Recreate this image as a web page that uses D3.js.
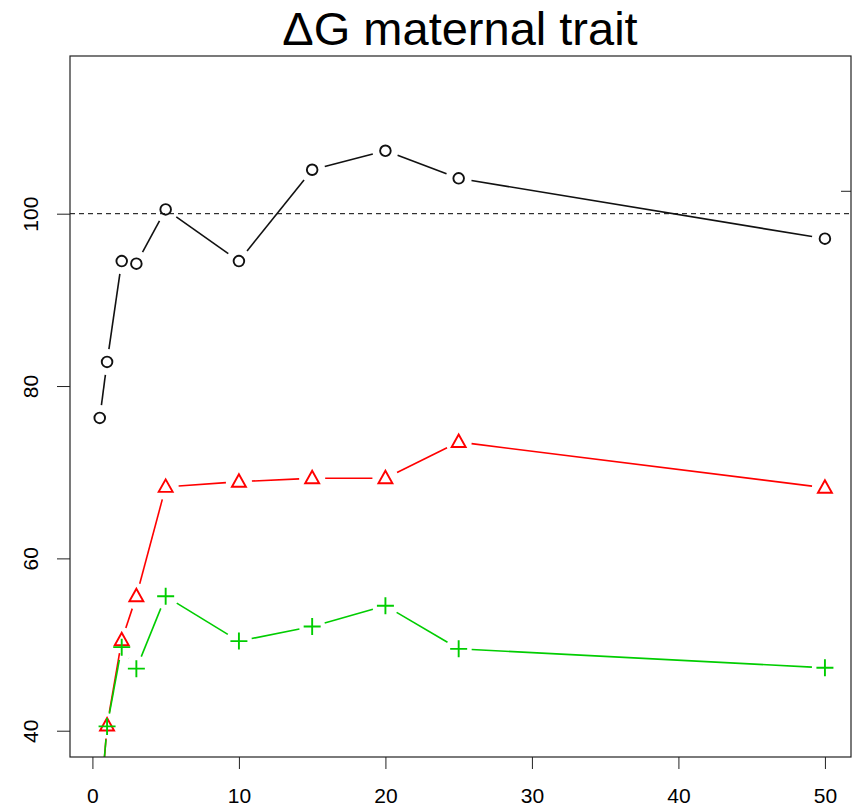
<!DOCTYPE html>
<html>
<head>
<meta charset="utf-8">
<script src="https://cdn.jsdelivr.net/npm/d3@7"></script>
<style>
  body { margin: 0; background: #fff; }
  text { font-family: "Liberation Sans", Arial, sans-serif; }
</style>
</head>
<body>
<svg id="chart" width="856" height="809"></svg>
<script>
// data
const xValues = [0.5, 1, 2, 3, 5, 10, 15, 20, 25, 50]
const blackSeries = [76.3, 82.8, 94.5, 94.2, 100.5, 94.5, 105.1, 107.3, 104.1, 97.1]
const redSeries = [30.2, 40.6, 50.5, 55.6, 68.3, 68.9, 69.3, 69.3, 73.5, 68.2]
const greenSeries = [30.5, 40.5, 49.7, 47.2, 55.6, 50.4, 52.1, 54.5, 49.5, 47.3]
const xTicks = [0, 10, 20, 30, 40, 50]
const yTicks = [40, 60, 80, 100]
const refLine = 100
const rightTick = 102.6
const title = 'ΔG maternal trait'

const svg = d3.select('#chart')

// plot box
const box = { left: 70, right: 851, top: 56, bottom: 757 }
const x = d3.scaleLinear().domain([-1.53, 51.78]).range([box.left, box.right])
const y = d3.scaleLinear().domain([36.95, 118.3]).range([box.bottom, box.top])

svg.append('defs').append('clipPath').attr('id', 'clip')
    .append('rect')
    .attr('x', box.left).attr('y', box.top)
    .attr('width', box.right - box.left).attr('height', box.bottom - box.top)

// title
svg.append('text')
    .attr('x', 460).attr('y', 45)
    .attr('text-anchor', 'middle')
    .attr('font-size', 47)
    .attr('fill', '#000')
    .text(title)

// axes
const xAxis = svg.append('g')
    .attr('transform', `translate(0,${box.bottom})`)
    .call(d3.axisBottom(x).tickValues(xTicks).tickSize(12).tickPadding(19).tickSizeOuter(0))
xAxis.select('.domain').remove()
xAxis.selectAll('text').attr('font-size', 21).attr('fill', '#000').attr('font-family', null)
xAxis.selectAll('line').attr('stroke', '#222')

const yAxis = svg.append('g')
    .attr('transform', `translate(${box.left},0)`)
    .call(d3.axisLeft(y).tickValues(yTicks).tickSize(13).tickSizeOuter(0))
yAxis.select('.domain').remove()
yAxis.selectAll('line').attr('stroke', '#222')
yAxis.selectAll('text')
    .attr('font-size', 21).attr('fill', '#000').attr('font-family', null)
    .attr('x', null).attr('dy', null)
    .attr('text-anchor', 'middle')
    .attr('transform', 'translate(-32,0) rotate(-90)')

// lone tick on the right side
svg.append('line')
    .attr('x1', box.right - 10).attr('x2', box.right)
    .attr('y1', y(rightTick)).attr('y2', y(rightTick))
    .attr('stroke', '#222')

// reference line
svg.append('line')
    .attr('x1', box.left).attr('x2', box.right)
    .attr('y1', y(refLine)).attr('y2', y(refLine))
    .attr('stroke', '#000')
    .attr('stroke-dasharray', '5,4')

const plot = svg.append('g').attr('clip-path', 'url(#clip)')

// type "b": segments broken around each point
const gap = 13
const drawSeries = (values, color, shape) => {
    const pts = xValues.map((d, i) => [x(d), y(values[i])])
    const segs = d3.pairs(pts).map(([a, b]) => {
        const dx = b[0] - a[0], dy = b[1] - a[1]
        const len = Math.hypot(dx, dy)
        if (len <= 2 * gap) return null
        const ux = dx / len, uy = dy / len
        return [a[0] + ux * gap, a[1] + uy * gap, b[0] - ux * gap, b[1] - uy * gap]
    }).filter((s) => s)

    plot.append('g').selectAll('line').data(segs).join('line')
        .attr('x1', (d) => d[0]).attr('y1', (d) => d[1])
        .attr('x2', (d) => d[2]).attr('y2', (d) => d[3])
        .attr('stroke', color)
        .attr('stroke-width', 1.6)

    plot.append('g').selectAll('path').data(pts).join('path')
        .attr('transform', (d) => `translate(${d[0]},${d[1]})`)
        .attr('d', shape)
        .attr('fill', 'none')
        .attr('stroke', color)
        .attr('stroke-width', 1.9)
}

const circleShape = 'M5.3,0A5.3,5.3 0 1,1 -5.3,0A5.3,5.3 0 1,1 5.3,0Z'
const triangleShape = 'M0,-7.5L7,5L-7,5Z'
const plusShape = 'M-8.5,0H8.5M0,-8.5V8.5'

drawSeries(blackSeries, '#111', circleShape)
drawSeries(redSeries, '#ff0000', triangleShape)
drawSeries(greenSeries, '#00cd00', plusShape)

// box
svg.append('rect')
    .attr('x', box.left).attr('y', box.top)
    .attr('width', box.right - box.left).attr('height', box.bottom - box.top)
    .attr('fill', 'none')
    .attr('stroke', '#222')
    .attr('stroke-width', 1.2)
</script>
</body>
</html>
